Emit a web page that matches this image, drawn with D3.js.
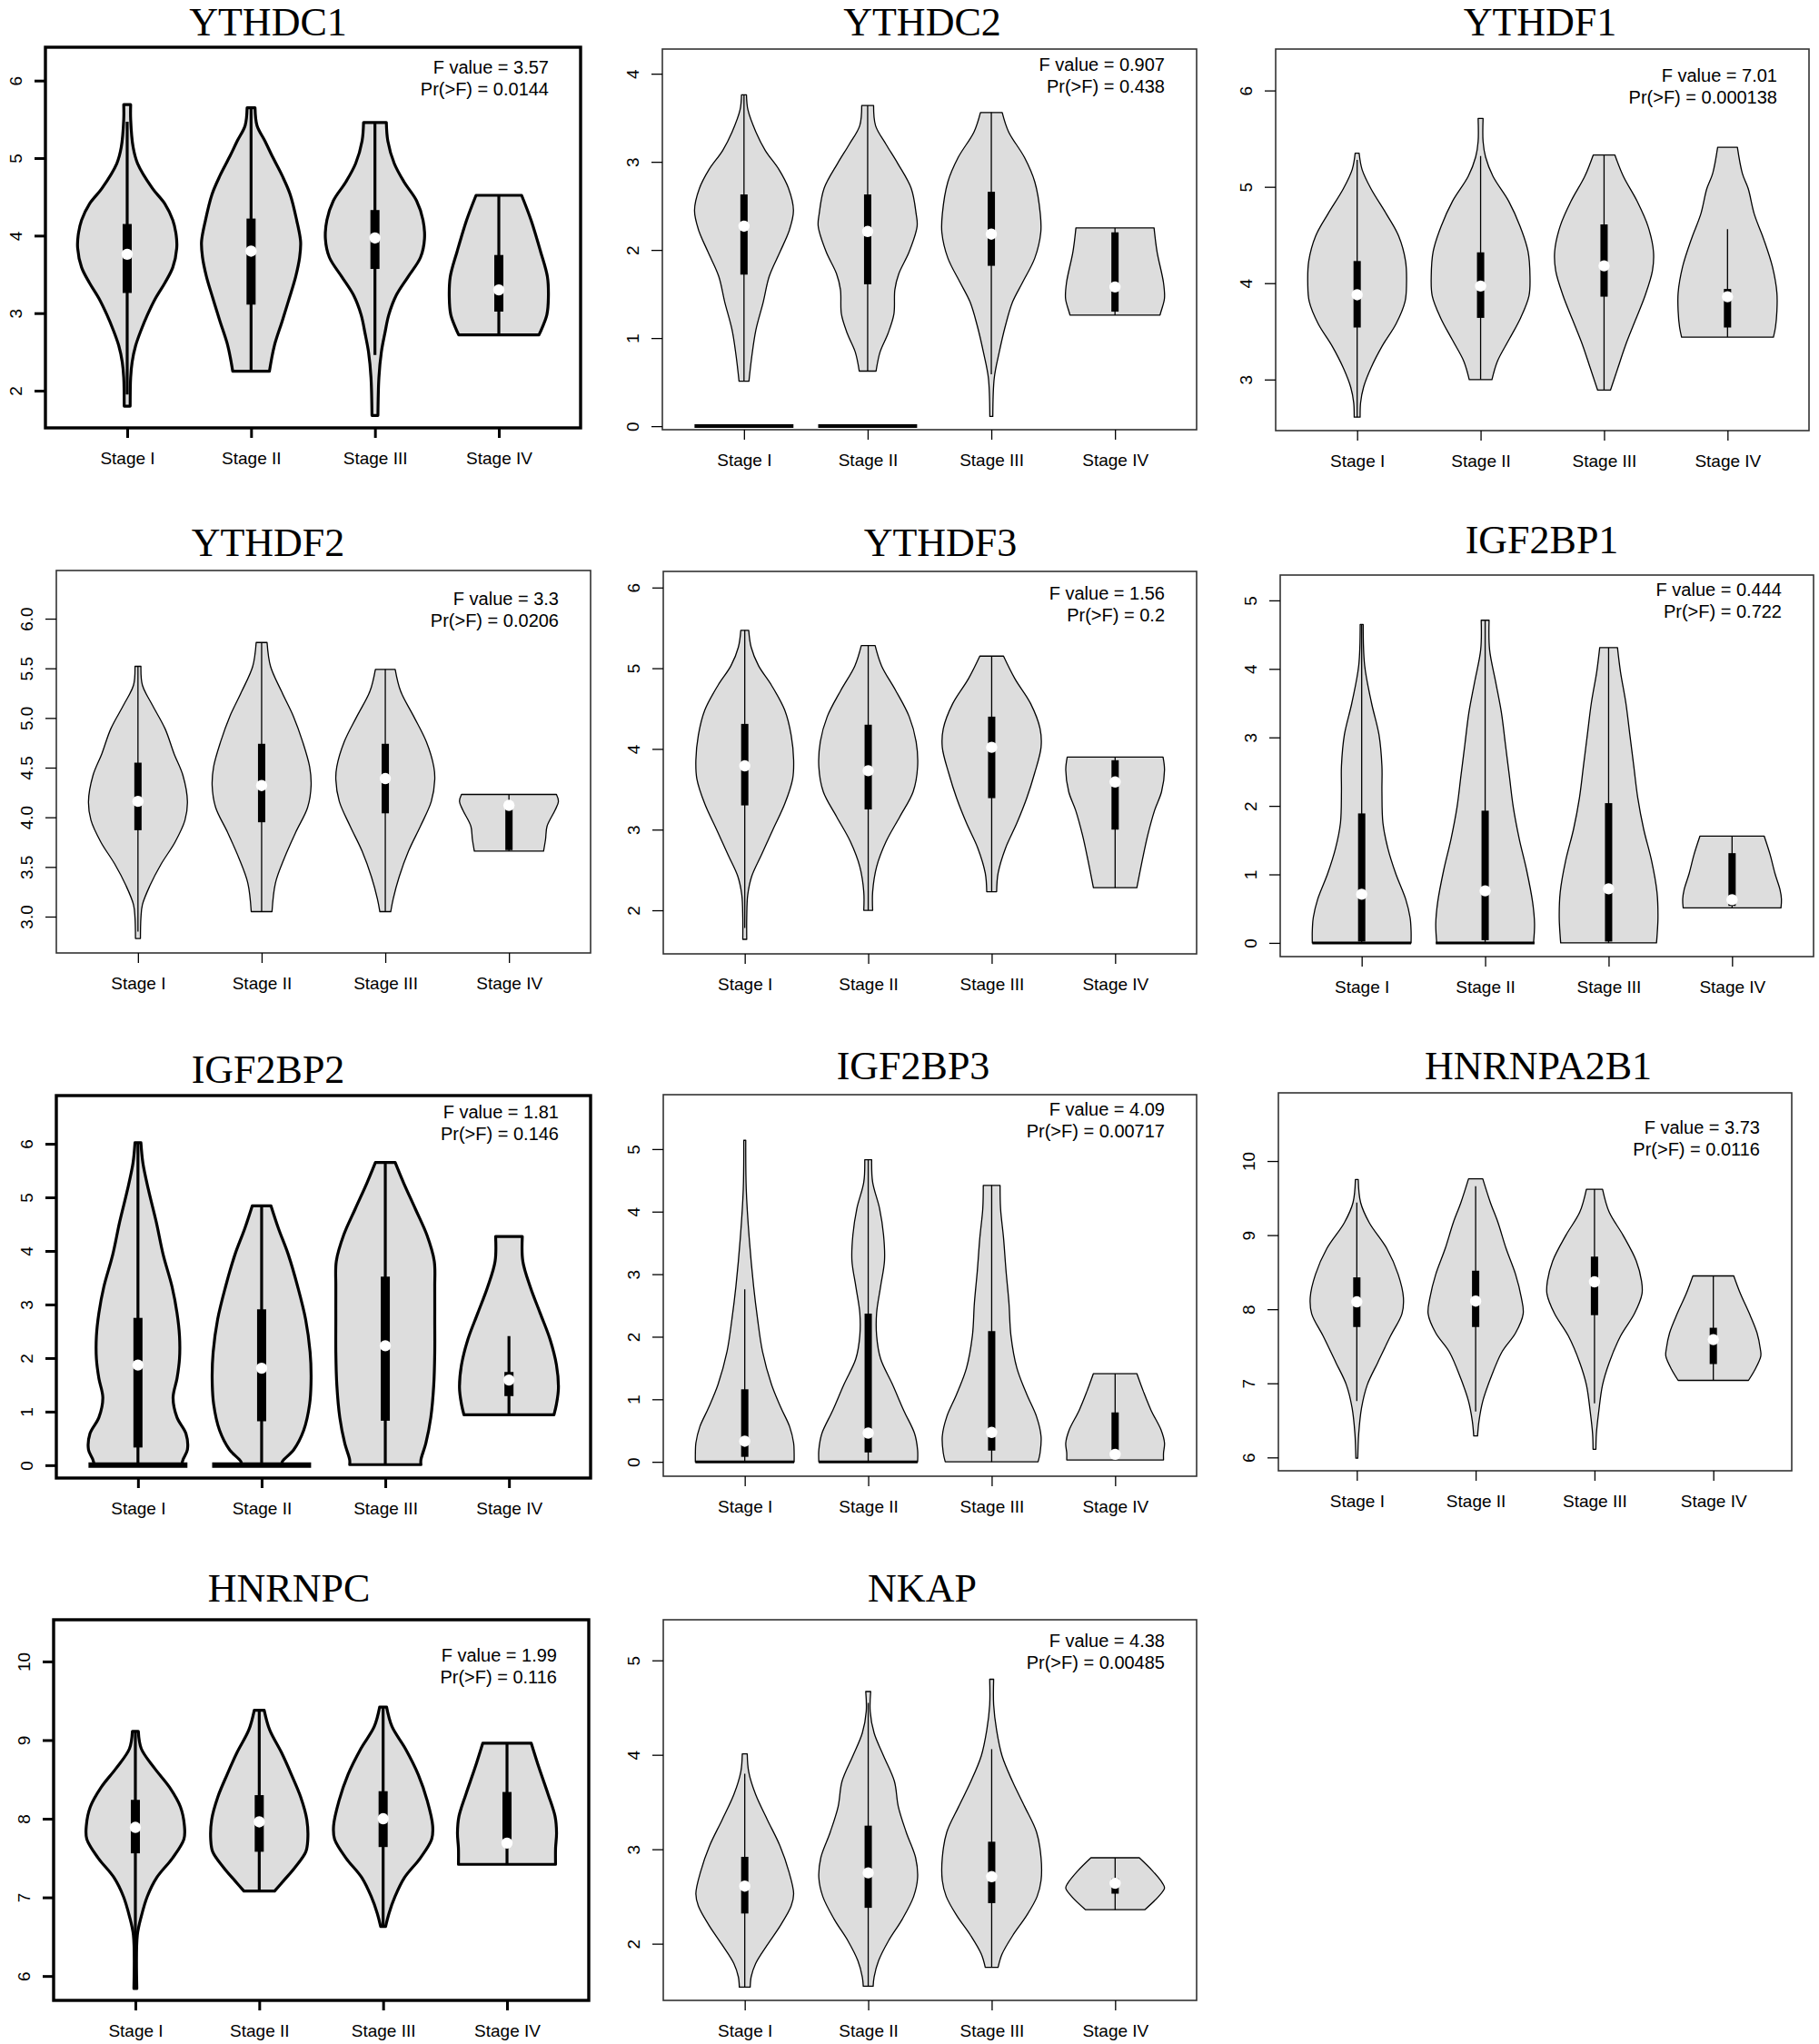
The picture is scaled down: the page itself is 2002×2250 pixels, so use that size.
<!DOCTYPE html>
<html><head><meta charset="utf-8">
<script src="https://cdn.jsdelivr.net/npm/d3@7"></script>
<style>body{margin:0;background:#fff}</style>
</head><body><svg id="c" width="2002" height="2250"></svg>
<script>
const stages = ["Stage I","Stage II","Stage III","Stage IV"];
const genes = ["YTHDC1","YTHDC2","YTHDF1","YTHDF2","YTHDF3","IGF2BP1","IGF2BP2","IGF2BP3","HNRNPA2B1","HNRNPC","NKAP"];
const fValues = ["3.57","0.907","7.01","3.3","1.56","0.444","1.81","4.09","3.73","1.99","4.38"];
const pValues = ["0.0144","0.438","0.000138","0.0206","0.2","0.722","0.146","0.00717","0.0116","0.116","0.00485"];
const yTicks = [[2,3,4,5,6],[0,1,2,3,4],[3,4,5,6],[3,3.5,4,4.5,5,5.5,6],[2,3,4,5,6],[0,1,2,3,4,5],[0,1,2,3,4,5,6],[0,1,2,3,4,5],[6,7,8,9,10],[6,7,8,9,10],[2,3,4,5]];

// violin outlines per stage: [expression value, relative half-width], top to bottom
const profYTHDC1 = [
 [[5.69,0.07],[5.5,0.07],[5.14,0.12],[4.93,0.21],[4.61,0.51],[4.41,0.76],[4.2,0.92],[4.0,0.99],[3.84,1.0],[3.59,0.92],[3.39,0.76],[3.19,0.57],[2.98,0.41],[2.78,0.28],[2.58,0.17],[2.37,0.10],[2.17,0.07],[1.80,0.06]],
 [[5.65,0.08],[5.42,0.12],[5.22,0.28],[5.02,0.43],[4.77,0.63],[4.53,0.79],[4.2,0.92],[3.92,1.0],[3.72,0.98],[3.47,0.9],[3.19,0.77],[2.9,0.63],[2.58,0.47],[2.25,0.37]],
 [[5.46,0.23],[5.22,0.26],[4.93,0.39],[4.69,0.59],[4.45,0.84],[4.2,0.97],[3.96,1.0],[3.72,0.92],[3.47,0.67],[3.23,0.43],[2.98,0.28],[2.74,0.20],[2.5,0.13],[2.17,0.08],[1.68,0.06]],
 [[4.52,0.46],[4.2,0.65],[3.8,0.84],[3.47,0.98],[3.2,1.0],[2.98,0.97],[2.82,0.88],[2.72,0.81]]
];
const profYTHDC2 = [
 [[3.76,0.05],[3.59,0.08],[3.34,0.24],[3.13,0.43],[2.91,0.71],[2.70,0.9],[2.45,1.0],[2.23,0.92],[1.98,0.73],[1.70,0.51],[1.41,0.39],[1.09,0.24],[0.80,0.16],[0.51,0.10]],
 [[3.64,0.12],[3.41,0.16],[3.2,0.37],[2.98,0.61],[2.70,0.88],[2.41,0.98],[2.27,1.0],[1.98,0.84],[1.73,0.63],[1.55,0.55],[1.27,0.53],[1.05,0.41],[0.84,0.25],[0.625,0.17]],
 [[3.56,0.22],[3.34,0.35],[3.05,0.67],[2.77,0.88],[2.41,0.99],[2.2,1.0],[1.91,0.88],[1.63,0.63],[1.41,0.43],[1.13,0.28],[0.84,0.16],[0.55,0.06],[0.11,0.03]],
 [[2.25,0.79],[1.98,0.85],[1.63,0.98],[1.45,1.0],[1.30,0.93],[1.26,0.91]]
];
const profYTHDF1 = [
 [[5.35,0.04],[5.18,0.1],[4.98,0.28],[4.72,0.59],[4.49,0.84],[4.23,0.98],[4.0,1.0],[3.81,0.97],[3.58,0.79],[3.35,0.51],[3.12,0.28],[2.92,0.13],[2.76,0.07],[2.61,0.06]],
 [[5.71,0.05],[5.47,0.05],[5.31,0.1],[5.11,0.25],[4.85,0.57],[4.59,0.80],[4.33,0.96],[4.07,1.0],[3.87,0.98],[3.64,0.81],[3.41,0.57],[3.19,0.34],[3.0,0.23]],
 [[5.33,0.22],[5.11,0.39],[4.85,0.67],[4.59,0.89],[4.33,1.0],[4.13,0.98],[3.87,0.83],[3.61,0.63],[3.35,0.43],[3.12,0.28],[2.89,0.13]],
 [[5.41,0.2],[5.14,0.3],[4.98,0.42],[4.72,0.54],[4.46,0.73],[4.17,0.91],[3.90,1.0],[3.71,1.0],[3.54,0.97],[3.44,0.93]]
];
const profYTHDF2 = [
 [[5.52,0.06],[5.33,0.09],[5.14,0.28],[4.89,0.55],[4.64,0.73],[4.42,0.91],[4.16,1.0],[3.97,0.95],[3.75,0.75],[3.53,0.47],[3.31,0.24],[3.12,0.09],[2.99,0.06],[2.78,0.05]],
 [[5.76,0.11],[5.52,0.18],[5.27,0.40],[5.02,0.64],[4.76,0.83],[4.51,0.97],[4.32,1.0],[4.10,0.93],[3.85,0.69],[3.59,0.46],[3.34,0.28],[3.05,0.21]],
 [[5.49,0.2],[5.27,0.31],[5.02,0.57],[4.76,0.83],[4.51,0.98],[4.38,1.0],[4.16,0.93],[3.91,0.71],[3.66,0.47],[3.40,0.28],[3.18,0.16],[3.05,0.11]],
 [[4.23,0.96],[4.16,1.0],[4.07,0.93],[3.91,0.77],[3.78,0.74],[3.66,0.70]]
];
const profYTHDF3 = [
 [[5.47,0.08],[5.26,0.13],[5.03,0.28],[4.79,0.54],[4.48,0.81],[4.17,0.94],[3.86,0.99],[3.63,0.97],[3.32,0.81],[3.0,0.57],[2.69,0.34],[2.42,0.14],[2.19,0.06],[1.91,0.04],[1.64,0.04]],
 [[5.28,0.14],[5.03,0.27],[4.72,0.56],[4.40,0.83],[4.09,0.97],[3.78,1.0],[3.47,0.91],[3.16,0.64],[2.85,0.36],[2.54,0.17],[2.23,0.09],[2.0,0.09]],
 [[5.15,0.24],[4.87,0.47],[4.56,0.79],[4.25,0.98],[4.02,1.0],[3.70,0.87],[3.39,0.71],[3.08,0.51],[2.77,0.28],[2.46,0.13],[2.23,0.10]],
 [[3.90,0.97],[3.74,1.0],[3.47,0.94],[3.24,0.80],[2.93,0.66],[2.62,0.55],[2.28,0.44]]
];
const profIGF2BP1 = [
 [[4.65,0.03],[4.05,0.06],[3.5,0.2],[3.04,0.35],[2.58,0.41],[2.21,0.41],[1.75,0.43],[1.38,0.53],[1.01,0.69],[0.64,0.89],[0.37,0.98],[0.18,1.0],[0,1.0]],
 [[4.71,0.08],[4.28,0.09],[3.82,0.21],[3.36,0.33],[2.90,0.41],[2.44,0.49],[1.98,0.57],[1.52,0.69],[1.06,0.84],[0.60,0.96],[0.28,1.0],[0,0.98]],
 [[4.31,0.18],[3.96,0.24],[3.50,0.35],[3.04,0.43],[2.58,0.51],[2.12,0.59],[1.66,0.71],[1.20,0.87],[0.74,0.98],[0.37,1.0],[0.09,0.98],[0,0.97]],
 [[1.56,0.65],[1.29,0.77],[1.01,0.87],[0.78,0.97],[0.64,1.0],[0.51,0.99]]
];
const profIGF2BP2 = [
 [[6.02,0.06],[5.64,0.10],[5.15,0.21],[4.54,0.37],[3.93,0.51],[3.33,0.69],[2.84,0.79],[2.41,0.84],[1.99,0.84],[1.62,0.79],[1.26,0.71],[0.89,0.79],[0.59,0.97],[0.29,1.0],[0.10,0.91],[0,0.88]],
 [[4.84,0.19],[4.42,0.34],[3.93,0.54],[3.33,0.73],[2.72,0.89],[2.11,0.98],[1.62,1.0],[1.14,0.97],[0.65,0.85],[0.29,0.65],[0.07,0.42],[0,0.4]],
 [[5.65,0.2],[5.27,0.37],[4.78,0.61],[4.30,0.84],[3.81,0.99],[3.33,1.0],[2.72,1.0],[2.11,1.0],[1.50,0.98],[0.89,0.92],[0.41,0.82],[0.10,0.72],[0.01,0.72]],
 [[4.27,0.27],[3.81,0.28],[3.33,0.43],[2.84,0.63],[2.35,0.83],[1.87,0.96],[1.44,1.0],[1.14,0.96],[0.94,0.91]]
];
const profIGF2BP3 = [
 [[5.14,0.02],[4.36,0.03],[3.58,0.09],[2.80,0.18],[2.28,0.26],[1.76,0.36],[1.24,0.54],[0.87,0.73],[0.56,0.91],[0.30,0.99],[0.14,1.0],[0,1.0]],
 [[4.83,0.07],[4.47,0.09],[4.05,0.23],[3.63,0.31],[3.22,0.33],[2.80,0.25],[2.38,0.17],[2.02,0.17],[1.65,0.25],[1.24,0.49],[0.82,0.72],[0.45,0.94],[0.19,1.0],[0,1.0]],
 [[4.42,0.17],[4.05,0.18],[3.58,0.24],[3.06,0.29],[2.54,0.35],[2.02,0.39],[1.50,0.51],[1.08,0.71],[0.72,0.91],[0.41,1.0],[0.14,0.98],[0,0.94]],
 [[1.41,0.44],[1.13,0.57],[0.82,0.73],[0.51,0.93],[0.30,1.0],[0.14,0.98],[0.03,0.98]]
];
const profHNRNPA2B1 = [
 [[9.75,0.03],[9.44,0.08],[9.17,0.26],[8.82,0.63],[8.47,0.87],[8.16,0.98],[7.94,0.95],[7.64,0.71],[7.28,0.44],[6.98,0.22],[6.67,0.10],[6.32,0.04],[5.99,0.02]],
 [[9.76,0.15],[9.44,0.31],[9.17,0.47],[8.82,0.64],[8.47,0.84],[8.16,0.96],[7.94,1.0],[7.68,0.84],[7.42,0.55],[7.06,0.31],[6.76,0.15],[6.49,0.07],[6.29,0.04]],
 [[9.62,0.17],[9.31,0.31],[9.0,0.6],[8.65,0.88],[8.38,0.99],[8.21,1.0],[7.94,0.84],[7.64,0.55],[7.28,0.31],[6.98,0.17],[6.62,0.09],[6.32,0.04],[6.11,0.03]],
 [[8.45,0.43],[8.21,0.57],[7.94,0.76],[7.68,0.92],[7.46,0.99],[7.37,1.0],[7.19,0.88],[7.04,0.74]]
];
const profHNRNPC = [
 [[9.11,0.06],[8.89,0.12],[8.64,0.39],[8.40,0.69],[8.15,0.91],[7.91,0.99],[7.74,0.98],[7.50,0.75],[7.25,0.43],[7.01,0.24],[6.76,0.12],[6.52,0.04],[5.84,0.03]],
 [[9.38,0.1],[9.13,0.21],[8.84,0.45],[8.56,0.65],[8.27,0.84],[7.99,0.96],[7.74,0.98],[7.58,0.94],[7.38,0.72],[7.21,0.49],[7.08,0.31]],
 [[9.42,0.07],[9.17,0.18],[8.89,0.45],[8.56,0.71],[8.23,0.89],[7.91,1.0],[7.74,0.98],[7.50,0.75],[7.25,0.43],[7.01,0.24],[6.80,0.12],[6.63,0.05]],
 [[8.96,0.49],[8.64,0.65],[8.31,0.83],[8.03,0.97],[7.82,1.0],[7.62,0.98],[7.42,0.98]]
];
const profNKAP = [
 [[4.01,0.05],[3.82,0.08],[3.58,0.22],[3.31,0.46],[3.04,0.71],[2.77,0.89],[2.53,0.99],[2.40,0.94],[2.20,0.73],[1.99,0.46],[1.79,0.22],[1.65,0.13],[1.54,0.11]],
 [[4.67,0.05],[4.46,0.04],[4.23,0.12],[3.99,0.31],[3.72,0.53],[3.45,0.61],[3.18,0.77],[2.91,0.96],[2.70,1.0],[2.50,0.92],[2.26,0.69],[2.03,0.41],[1.82,0.21],[1.65,0.12],[1.55,0.1]],
 [[4.80,0.04],[4.53,0.04],[4.26,0.1],[3.99,0.21],[3.72,0.42],[3.45,0.67],[3.18,0.91],[2.91,1.0],[2.67,1.0],[2.50,0.92],[2.30,0.71],[2.09,0.43],[1.89,0.21],[1.75,0.13]],
 [[2.91,0.49],[2.77,0.76],[2.64,0.96],[2.59,1.0],[2.50,0.88],[2.36,0.6]]
];

// box statistics per stage: [lower whisker, Q1, median, Q3, upper whisker]
const boxYTHDC1 = [[1.95,3.26,3.76,4.15,5.47],[2.25,3.11,3.80,4.22,5.65],[2.46,3.57,3.97,4.33,5.46],[2.72,3.02,3.30,3.75,4.52]];
const boxYTHDC2 = [[0.51,1.72,2.27,2.63,3.76],[0.625,1.61,2.21,2.63,3.64],[0.59,1.82,2.18,2.66,3.56],[1.26,1.30,1.58,2.20,2.25]];
const boxYTHDF1 = [[2.61,3.54,3.88,4.23,5.28],[3.0,3.64,3.97,4.32,5.32],[2.89,3.86,4.18,4.61,5.33],[3.44,3.54,3.86,3.94,4.56]];
const boxYTHDF2 = [[2.85,3.87,4.16,4.55,5.52],[3.05,3.95,4.32,4.74,5.76],[3.05,4.04,4.39,4.74,5.49],[3.66,3.67,4.12,4.10,4.23]];
const boxYTHDF3 = [[1.78,3.30,3.79,4.31,5.47],[2.0,3.25,3.73,4.30,5.28],[2.23,3.39,4.02,4.40,5.15],[2.28,3.0,3.59,3.86,3.90]];
const boxIGF2BP1 = [[0,0.02,0.71,1.89,4.65],[0,0.04,0.76,1.93,4.71],[0,0.02,0.79,2.04,4.31],[0.51,0.54,0.63,1.31,1.56]];
const boxIGF2BP2 = [[0,0.33,1.87,2.75,6.02],[0,0.82,1.81,2.91,4.84],[0.01,0.83,2.23,3.52,5.65],[0.94,1.29,1.59,1.74,2.41]];
const boxIGF2BP3 = [[0,0.08,0.33,1.16,2.76],[0,0.15,0.46,2.37,4.83],[0,0.18,0.47,2.09,4.42],[0.03,0.16,0.12,0.79,1.41]];
const boxHNRNPA2B1 = [[6.76,7.76,8.10,8.43,9.44],[6.62,7.76,8.11,8.52,9.66],[6.73,7.92,8.37,8.71,9.62],[7.04,7.26,7.59,7.75,8.45]];
const boxHNRNPC = [[5.84,7.56,7.89,8.24,9.11],[7.08,7.58,7.96,8.30,9.38],[6.63,7.64,8.0,8.35,9.42],[7.42,7.68,7.69,8.34,8.96]];
const boxNKAP = [[1.54,2.32,2.61,2.92,3.80],[1.55,2.38,2.75,3.25,4.55],[1.75,2.43,2.71,3.08,4.06],[2.36,2.53,2.64,2.69,2.91]];

// stages with a spike of zero values
const zeroSpikes = [[0,0,0,0],[1,1,0,0],[0,0,0,0],[0,0,0,0],[0,0,0,0],[1,1,0,0],[1,1,0,0],[1,1,0,0],[0,0,0,0],[0,0,0,0],[0,0,0,0]];

const profiles = [profYTHDC1,profYTHDC2,profYTHDF1,profYTHDF2,profYTHDF3,profIGF2BP1,profIGF2BP2,profIGF2BP3,profHNRNPA2B1,profHNRNPC,profNKAP];
const boxes = [boxYTHDC1,boxYTHDC2,boxYTHDF1,boxYTHDF2,boxYTHDF3,boxIGF2BP1,boxIGF2BP2,boxIGF2BP3,boxHNRNPA2B1,boxHNRNPC,boxNKAP];

// panel layout (pixels) and y-axis limits
const layout = [
 {box:[50,52,639,471],   dom:[1.52,6.43],  title:[295,39],   ann:22, thick:true,  zw:4},
 {box:[729,54,1317,473], dom:[-0.04,4.28], title:[1015,39],  ann:17, thick:false, zw:4},
 {box:[1404,54,1991,474],dom:[2.47,6.43],  title:[1695,39],  ann:29, thick:false, zw:3},
 {box:[62,628,650,1049], dom:[2.634,6.485],title:[295,612],  ann:31, thick:false, zw:3},
 {box:[730,629,1317,1050],dom:[1.46,6.20], title:[1035,612], ann:24, thick:false, zw:3},
 {box:[1409,633,1996,1053],dom:[-0.20,5.37],title:[1697,609],ann:16, thick:false, zw:3},
 {box:[62,1206,650,1627],dom:[-0.24,6.90], title:[295,1192], ann:18, thick:true,  zw:6},
 {box:[730,1205,1317,1625],dom:[-0.23,5.87],title:[1005,1188],ann:16, thick:false, zw:3},
 {box:[1407,1203,1972,1619],dom:[5.82,10.92],title:[1693,1188],ann:38, thick:false, zw:3},
 {box:[59,1783,648,2202],dom:[5.69,10.53], title:[318,1763], ann:39, thick:true,  zw:4},
 {box:[730,1783,1317,2202],dom:[1.40,5.43], title:[1015,1763],ann:23, thick:false, zw:3}
];

const svg = d3.select("#c");
const sans = "'Liberation Sans', Arial, sans-serif";
genes.forEach((g,i)=>{
  const L = layout[i];
  const [x0,y0,x1,y1] = L.box;
  const x = d3.scaleLinear().domain([0.34,4.66]).range([x0,x1]);
  const y = d3.scaleLinear().domain(L.dom).range([y1,y0]);
  const lw = L.thick ? 3.2 : 1.3;
  const bw = L.thick ? 10 : 8;
  const G = svg.append("g");
  G.append("text").attr("x",L.title[0]).attr("y",L.title[1]).attr("text-anchor","middle")
    .attr("font-family","'Liberation Serif','Times New Roman',serif").attr("font-size",44).text(g);
  const hw = x(1.4) - x(1);
  profiles[i].forEach((p,k)=>{
    const cx = x(k+1);
    const area = d3.area().y(d=>y(d[0])).x0(d=>cx-d[1]*hw).x1(d=>cx+d[1]*hw).curve(d3.curveCatmullRom.alpha(0.5));
    G.append("path").attr("d",area(p)).attr("fill","#dddddd").attr("stroke","#000")
      .attr("stroke-width",lw).attr("stroke-linejoin","round");
    if (zeroSpikes[i][k]) {
      G.append("line").attr("x1",cx-hw).attr("x2",cx+hw).attr("y1",y(0)).attr("y2",y(0))
        .attr("stroke","#000").attr("stroke-width",L.zw);
    }
    const b = boxes[i][k];
    G.append("line").attr("x1",cx).attr("x2",cx).attr("y1",y(b[0])).attr("y2",y(b[4]))
      .attr("stroke","#000").attr("stroke-width",lw);
    G.append("rect").attr("x",cx-bw/2).attr("width",bw).attr("y",y(b[3])).attr("height",Math.max(1,y(b[1])-y(b[3]))).attr("fill","#000");
    G.append("circle").attr("cx",cx).attr("cy",y(b[2])).attr("r",6.2).attr("fill","#fff");
  });
  G.append("rect").attr("x",x0).attr("y",y0).attr("width",x1-x0).attr("height",y1-y0)
    .attr("fill","none").attr("stroke", L.thick ? "#000" : "#333").attr("stroke-width", L.thick ? 3.4 : 1.6);

  const fmt = i===3 ? d3.format(".1f") : d3.format("d");
  const ya = G.append("g").attr("transform",`translate(${x0},0)`)
    .call(d3.axisLeft(y).tickValues(yTicks[i]).tickSize(12).tickFormat(fmt));
  ya.select(".domain").remove();
  ya.selectAll("line").attr("stroke","#000").attr("stroke-width", L.thick ? 3 : 1.3);
  ya.selectAll("text").attr("x",null).attr("dy",null)
    .attr("transform","translate(-33,0) rotate(-90)").attr("text-anchor","middle")
    .attr("dominant-baseline","central").attr("font-family",sans).attr("font-size",19).attr("fill","#000");

  const xa = G.append("g").attr("transform",`translate(0,${y1})`)
    .call(d3.axisBottom(x).tickValues([1,2,3,4]).tickSize(11).tickFormat(d=>stages[d-1]));
  xa.select(".domain").remove();
  xa.selectAll("line").attr("stroke","#000").attr("stroke-width", L.thick ? 3 : 1.3);
  xa.selectAll("text").attr("y",33).attr("dy",null).attr("dominant-baseline","central")
    .attr("font-family",sans).attr("font-size",19).attr("fill","#000");

  const ax = x1 - 35, ay = y0 + L.ann;
  G.append("text").attr("x",ax).attr("y",ay).attr("text-anchor","end").attr("dominant-baseline","central")
    .attr("font-family",sans).attr("font-size",20).text(`F value = ${fValues[i]}`);
  G.append("text").attr("x",ax).attr("y",ay+24).attr("text-anchor","end").attr("dominant-baseline","central")
    .attr("font-family",sans).attr("font-size",20).text(`Pr(>F) = ${pValues[i]}`);
});
</script>
</body></html>
